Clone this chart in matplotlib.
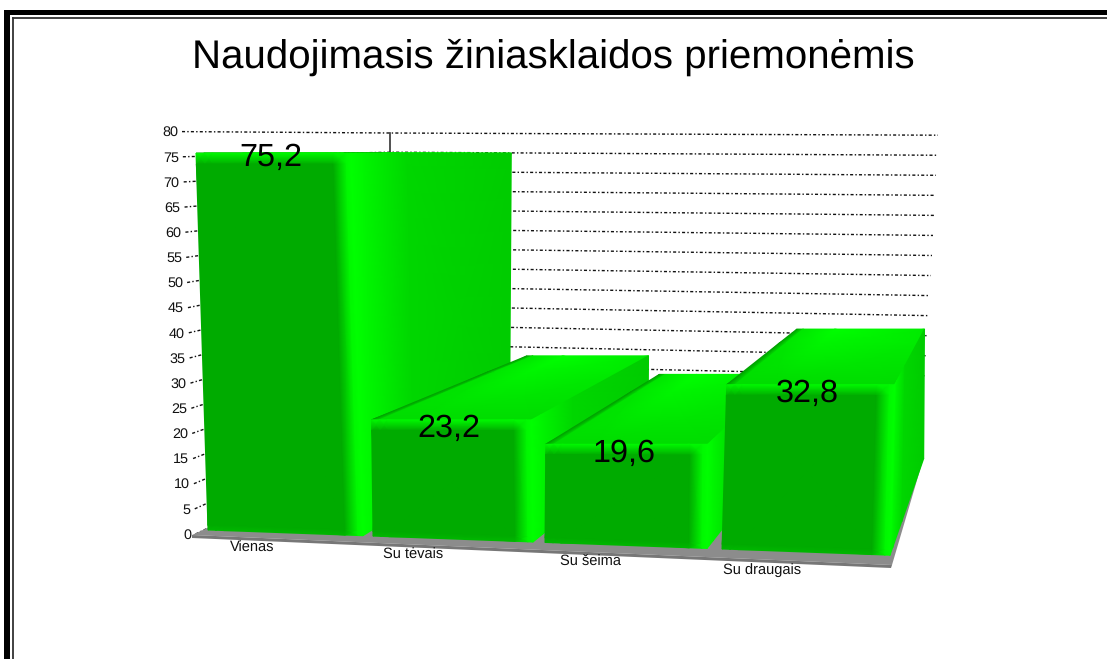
import matplotlib
matplotlib.use("Agg")
import matplotlib.pyplot as plt
import numpy as np
from matplotlib.colors import LinearSegmentedColormap
from matplotlib.patches import Polygon

plt.rcParams['font.family'] = ['Liberation Sans', 'DejaVu Sans']
plt.rcParams['text.hinting'] = 'no_hinting'

title = "Naudojimasis žiniasklaidos priemonėmis"
categories = ["Vienas", "Su tėvais", "Su šeima", "Su draugais"]
values = [75.2, 23.2, 19.6, 32.8]
value_labels = ["75,2", "23,2", "19,6", "32,8"]
y_ticks = list(range(0, 85, 5))

# picture of the old 3D chart, everything below is in pixels of the 1107x659 image
slot_left = [208, 373, 545, 722]
slot_right = [363, 533, 707, 890]
value_dy = [4, 9, 9, 9]
cat_dx = [44, 40, 45, 40]
cat_dy = [18, 19, 20, 21]
scale = 5.01      # pixels per unit on the front plane
vp = (1019, 153)  # vanishing point of the depth direction
depth = 0.76

greens = LinearSegmentedColormap.from_list("greens3d", [(0, 0.5, 0), (0, 1, 0)])


def base_y(x):
    return 530 + (x - 208) * 0.037


def back(p):
    return (vp[0] + (p[0] - vp[0]) * depth, vp[1] + (p[1] - vp[1]) * depth)


def face(ax, corners, us, vs, shade, z):
    # bilinear patch with smooth shading, corners are TL, TR, BR, BL
    tl, tr, br, bl = [np.array(c, dtype=float) for c in corners]
    uu, vv = np.meshgrid(us, vs)
    top = tl[None, None, :] + uu[..., None] * (tr - tl)
    bottom = bl[None, None, :] + uu[..., None] * (br - bl)
    pts = top + vv[..., None] * (bottom - top)
    ax.pcolormesh(pts[..., 0], pts[..., 1], shade, cmap=greens, vmin=0.5, vmax=1,
                  shading='gouraud', zorder=z)


def draw_bar(ax, left, right, value, z):
    h = value * scale
    bl = (left, base_y(left))
    br = (right, base_y(right))
    y_top = bl[1] - h
    # the verticals of the picture are not quite vertical
    shift = ((left + right) / 2 - 560) * 0.000116 * h
    tl = (left + shift, y_top)
    tr = (right + shift, y_top)
    width = tr[0] - tl[0]
    height = max(br[1], bl[1]) - y_top

    # top face
    us = np.array([0, 0.05, 0.3, 1])
    vs = np.array([0, 0.25, 1])
    u_prof = np.array([0.62, 0.9, 1.0, 0.92])
    v_prof = np.array([1.0, 0.96, 0.86])
    face(ax, [back(tl), back(tr), tr, tl], us, vs[::-1],
         np.minimum.outer(v_prof[::-1], u_prof), z)

    # side face, its far edge stays nearly upright
    us = np.array([0, 0.08, 0.35, 1])
    vs = np.array([0, 1])
    prof = np.array([1.0, 0.96, 0.84, 0.8])
    far_top = back(tr)
    far_bottom = (far_top[0] - h * 0.005, back(br)[1])
    face(ax, [tr, far_top, far_bottom, br], us, vs, np.vstack([prof, prof]), z + 1)

    # front face, bevelled on all sides
    us = np.array([0, 8 / width, 16 / width, 1 - 18 / width, 1 - 5 / width, 1])
    vs = np.array([0, 11 / height, 1 - 5 / height, 1])
    u_prof = np.array([0.56, 0.62, 0.67, 0.67, 0.97, 1.0])
    v_prof = np.array([0.98, 0.67, 0.67, 0.72])
    face(ax, [tl, tr, br, bl], us, vs, np.maximum.outer(v_prof, u_prof), z + 2)
    return tl, tr


def main():
    fig = plt.figure(figsize=(11.07, 6.59), dpi=100)
    ax = fig.add_axes([0, 0, 1, 1])
    ax.set_xlim(0, 1107)
    ax.set_ylim(659, 0)
    ax.axis('off')

    # double frame on top and left only
    ax.fill_between([4, 1107], 10, 15.3, color='black', lw=0)
    ax.fill_between([4, 9.5], 10, 659, color='black', lw=0)
    ax.plot([13, 1107], [18.3, 18.3], color='#333333', lw=1.3)
    ax.plot([13, 13], [18.3, 659], color='#333333', lw=1.3)

    ax.text(553.5, 57, title, fontsize=29, ha='center', va='center', color='black')

    # grid on the two walls
    for v in y_ticks:
        y_left = 534 - v * 5.03
        x_left = 178 + (80 - v) * 0.17
        xs = [x_left + 4, 390, 922 + v * 0.2]
        ys = [y_left, 133 + (80 - v) * 3.84, 456 - v * 4.01]
        ax.plot(xs, ys, color='#111111', lw=1.0, ls=(0, (2.2, 1.6, 1, 1.6)), zorder=1)
        ax.text(x_left, y_left + 1, str(v), fontsize=10.4, ha='right', va='center',
                color='#111111', zorder=20)
    ax.plot([390, 390], [133, 440], color='#333333', lw=1.2, zorder=1)

    # floor
    fl = (192, 535)
    fr = (892, 565)
    ax.add_patch(Polygon([fl, back(fl), back((fr[0], fr[1] - 6)), fr], closed=True,
                         fc='#8c8c8c', ec='none', zorder=2))
    ax.add_patch(Polygon([fl, fr, (fr[0] - 1, fr[1] + 3), (fl[0], fl[1] + 3)], closed=True,
                         fc='#777777', ec='none', zorder=2))

    for i, v in enumerate(values):
        tl, tr = draw_bar(ax, slot_left[i], slot_right[i], v, 3 + i * 3)
        ax.text((tl[0] + tr[0]) / 2 - 3, tl[1] + value_dy[i], value_labels[i], fontsize=23.3,
                ha='center', va='center', color='black', zorder=20)
        ax.text(slot_left[i] + cat_dx[i], base_y(slot_left[i]) + cat_dy[i], categories[i],
                fontsize=10.5, ha='center', va='center', color='#111111', zorder=20)

    fig.savefig("out.png", dpi=100, facecolor='white')


if __name__ == "__main__":
    main()
